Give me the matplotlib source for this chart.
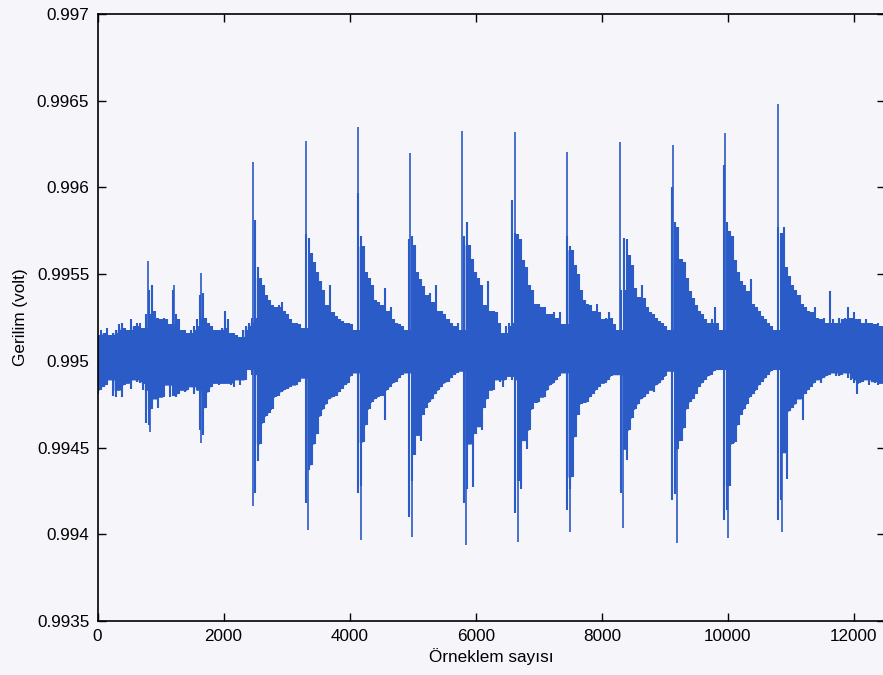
import numpy as np
import matplotlib
matplotlib.use("Agg")
import matplotlib.pyplot as plt

# ---------------- data ----------------
# envelope of the signal, one column every 48 samples starting at sample 0
envelope_step = 48
upper_env = [
    0.99515, 0.99518, 0.99516, 0.99519, 0.99515, 0.99516, 0.99518, 0.99521, 0.99522, 0.99519, 0.99518, 0.99524, 0.99520, 0.99522, 0.99522, 0.99519, 0.99527,
    0.99541, 0.99544, 0.99529, 0.99525, 0.99524, 0.99525, 0.99524, 0.99521, 0.99541, 0.99527, 0.99524, 0.99518, 0.99518, 0.99516, 0.99518, 0.99520, 0.99524,
    0.99538, 0.99539, 0.99525, 0.99522, 0.99520, 0.99518, 0.99518, 0.99519, 0.99529, 0.99524, 0.99516, 0.99516, 0.99515, 0.99514, 0.99518, 0.99520, 0.99522,
    0.99525,
    0.99581, 0.99554, 0.99548, 0.99544, 0.99538, 0.99535, 0.99532, 0.99531, 0.99532, 0.99534, 0.99529, 0.99527, 0.99524, 0.99522, 0.99522, 0.99521, 0.99519,
    0.99573, 0.99571, 0.99562, 0.99557, 0.99551, 0.99546, 0.99541, 0.99532, 0.99544, 0.99528, 0.99526, 0.99524, 0.99523, 0.99522, 0.99522, 0.99521, 0.99518,
    0.99597, 0.99572, 0.99566, 0.99551, 0.99548, 0.99544, 0.99535, 0.99534, 0.99532, 0.99542, 0.99529, 0.99531, 0.99524, 0.99522, 0.99521, 0.99520, 0.99518,
    0.99570,
    0.99572, 0.99567, 0.99551, 0.99547, 0.99543, 0.99538, 0.99539, 0.99534, 0.99544, 0.99529, 0.99529, 0.99527, 0.99524, 0.99522, 0.99520, 0.99522, 0.99518,
    0.99572, 0.99580, 0.99567, 0.99559, 0.99551, 0.99548, 0.99544, 0.99532, 0.99546, 0.99529, 0.99529, 0.99528, 0.99522, 0.99516, 0.99520, 0.99522, 0.99593,
    0.99574, 0.99573, 0.99570, 0.99558, 0.99554, 0.99544, 0.99541, 0.99533, 0.99533, 0.99531, 0.99531, 0.99527, 0.99527, 0.99528, 0.99525, 0.99528, 0.99521,
    0.99572, 0.99566, 0.99564, 0.99555, 0.99550, 0.99541, 0.99535, 0.99533, 0.99532, 0.99529, 0.99533, 0.99528, 0.99524, 0.99525, 0.99528, 0.99525, 0.99521,
    0.99518,
    0.99541, 0.99571, 0.99570, 0.99561, 0.99555, 0.99542, 0.99537, 0.99544, 0.99536, 0.99531, 0.99528, 0.99527, 0.99525, 0.99523, 0.99522, 0.99520, 0.99518,
    0.99600, 0.99580, 0.99577, 0.99559, 0.99557, 0.99548, 0.99540, 0.99536, 0.99532, 0.99529, 0.99527, 0.99524, 0.99522, 0.99524, 0.99531, 0.99522, 0.99518,
    0.99613, 0.99580, 0.99575, 0.99572, 0.99558, 0.99551, 0.99546, 0.99544, 0.99540, 0.99547, 0.99533, 0.99531, 0.99529, 0.99526, 0.99524, 0.99522, 0.99520, 0.99518,
    0.99577, 0.99574, 0.99577, 0.99554, 0.99549, 0.99544, 0.99541, 0.99538, 0.99533, 0.99531, 0.99529, 0.99528, 0.99531, 0.99525, 0.99524, 0.99525, 0.99522, 0.99540,
    0.99524, 0.99522, 0.99525, 0.99524, 0.99525, 0.99531, 0.99525, 0.99528, 0.99524, 0.99524, 0.99522, 0.99524, 0.99522, 0.99522, 0.99521, 0.99522, 0.99520, 0.99520,
]
lower_env = [
    0.99481, 0.99483, 0.99485, 0.99486, 0.99489, 0.99480, 0.99479, 0.99483, 0.99479, 0.99486, 0.99487, 0.99484, 0.99489, 0.99488, 0.99487, 0.99483, 0.99464,
    0.99463, 0.99472, 0.99478, 0.99473, 0.99479, 0.99479, 0.99486, 0.99479, 0.99480, 0.99479, 0.99481, 0.99483, 0.99482, 0.99483, 0.99485, 0.99481, 0.99483,
    0.99460, 0.99457, 0.99473, 0.99482, 0.99485, 0.99487, 0.99486, 0.99487, 0.99487, 0.99487, 0.99486, 0.99485, 0.99489, 0.99486, 0.99489, 0.99489, 0.99495,
    0.99492,
    0.99424, 0.99442, 0.99452, 0.99464, 0.99468, 0.99470, 0.99472, 0.99479, 0.99480, 0.99482, 0.99483, 0.99484, 0.99485, 0.99486, 0.99486, 0.99488, 0.99490,
    0.99418, 0.99437, 0.99440, 0.99452, 0.99458, 0.99468, 0.99472, 0.99475, 0.99478, 0.99479, 0.99480, 0.99482, 0.99484, 0.99486, 0.99487, 0.99491, 0.99493,
    0.99424, 0.99428, 0.99453, 0.99463, 0.99472, 0.99476, 0.99478, 0.99479, 0.99480, 0.99466, 0.99483, 0.99485, 0.99487, 0.99488, 0.99490, 0.99492, 0.99493,
    0.99410,
    0.99431, 0.99446, 0.99457, 0.99454, 0.99469, 0.99473, 0.99476, 0.99478, 0.99481, 0.99483, 0.99485, 0.99487, 0.99488, 0.99490, 0.99492, 0.99493, 0.99494,
    0.99418, 0.99426, 0.99452, 0.99427, 0.99458, 0.99462, 0.99460, 0.99473, 0.99478, 0.99483, 0.99483, 0.99489, 0.99488, 0.99485, 0.99489, 0.99491, 0.99489,
    0.99412, 0.99431, 0.99426, 0.99454, 0.99449, 0.99460, 0.99472, 0.99476, 0.99476, 0.99479, 0.99479, 0.99483, 0.99486, 0.99487, 0.99489, 0.99491, 0.99493,
    0.99414, 0.99426, 0.99433, 0.99456, 0.99469, 0.99475, 0.99476, 0.99476, 0.99479, 0.99481, 0.99483, 0.99485, 0.99487, 0.99487, 0.99489, 0.99491, 0.99492,
    0.99492,
    0.99424, 0.99449, 0.99443, 0.99460, 0.99467, 0.99472, 0.99475, 0.99478, 0.99479, 0.99481, 0.99483, 0.99482, 0.99486, 0.99487, 0.99489, 0.99491, 0.99494,
    0.99420, 0.99423, 0.99449, 0.99454, 0.99461, 0.99472, 0.99476, 0.99478, 0.99481, 0.99485, 0.99487, 0.99489, 0.99491, 0.99492, 0.99494, 0.99495, 0.99495,
    0.99408, 0.99414, 0.99428, 0.99452, 0.99453, 0.99463, 0.99469, 0.99472, 0.99475, 0.99479, 0.99481, 0.99483, 0.99486, 0.99488, 0.99490, 0.99492, 0.99494, 0.99495,
    0.99408, 0.99420, 0.99447, 0.99432, 0.99471, 0.99473, 0.99475, 0.99478, 0.99466, 0.99481, 0.99483, 0.99485, 0.99487, 0.99489, 0.99487, 0.99490, 0.99491, 0.99492,
    0.99493, 0.99491, 0.99491, 0.99492, 0.99493, 0.99490, 0.99489, 0.99487, 0.99481, 0.99487, 0.99488, 0.99489, 0.99486, 0.99488, 0.99487, 0.99486, 0.99487, 0.99487,
]

# single sharp impulses (sample index, value)
signal_level = 0.99503
peak_samples = [806, 1218, 1637, 2471, 3302, 4127, 4956, 5786, 6622, 7451, 8287, 9132, 9952, 10788]
peak_values = [0.995573, 0.995438, 0.995509, 0.996149, 0.996270, 0.996349, 0.996199,
               0.996328, 0.996322, 0.996207, 0.996264, 0.996245, 0.996316, 0.996482]
trough_samples = [833, 1637, 2471, 3343, 4179, 4993, 5840, 6674, 7494, 8339, 9186, 10004, 10851]
trough_values = [0.994592, 0.994527, 0.994164, 0.994026, 0.993968, 0.993987, 0.993939,
                 0.993958, 0.994016, 0.994035, 0.993951, 0.993978, 0.994016]

x_ticks = [0, 2000, 4000, 6000, 8000, 10000, 12000]
y_ticks = [0.9935, 0.994, 0.9945, 0.995, 0.9955, 0.996, 0.9965, 0.997]
y_tick_labels = ["0.9935", "0.994", "0.9945", "0.995", "0.9955", "0.996", "0.9965", "0.997"]
x_label = "Örneklem sayısı"
y_label = "Gerilim (volt)"

# ---------------- drawing ----------------
plt.rcParams["font.family"] = ["Liberation Sans", "DejaVu Sans"]
blue = "#2b5bc6"
bg = "#f6f5fa"

fig = plt.figure(figsize=(8.83, 6.75), dpi=100, facecolor=bg)
ax = fig.add_axes([97.5 / 883, 1 - 621 / 675, 788 / 883, 607 / 675])
ax.set_facecolor(bg)

samples = np.arange(len(upper_env)) * envelope_step
up = np.array(upper_env)
lo = np.array(lower_env)
# solid core: the part shared with both neighbouring columns
up_core = np.minimum(up, np.minimum(np.r_[up[0], up[:-1]], np.r_[up[1:], up[-1]]))
lo_core = np.maximum(lo, np.maximum(np.r_[lo[0], lo[:-1]], np.r_[lo[1:], lo[-1]]))
ax.fill_between(samples, lo_core, up_core, step="mid", color=blue, lw=0)
# individual comb strokes reaching the full envelope
ax.vlines(samples, lo, up, color=blue, lw=1.5)
ax.vlines(samples + envelope_step / 2, lo_core, up_core, color=blue, lw=1.5)
ax.vlines(peak_samples, signal_level, peak_values, color=blue, lw=1.2)
ax.vlines(trough_samples, trough_values, signal_level, color=blue, lw=1.2)

ax.set_xlim(0, 12500)
ax.set_ylim(0.9935, 0.997)
ax.set_xticks(x_ticks)
ax.set_xticklabels([str(t) for t in x_ticks])
ax.set_yticks(y_ticks)
ax.set_yticklabels(y_tick_labels)
ax.tick_params(direction="in", top=True, right=True, length=6, width=1.0,
               labelsize=12.3, pad=6)
for sp in ax.spines.values():
    sp.set_linewidth(1.2)
ax.set_xlabel(x_label, fontsize=12.3, labelpad=3)
ax.set_ylabel(y_label, fontsize=12.3, labelpad=6)

fig.savefig("out.png", dpi=100, facecolor=bg)
